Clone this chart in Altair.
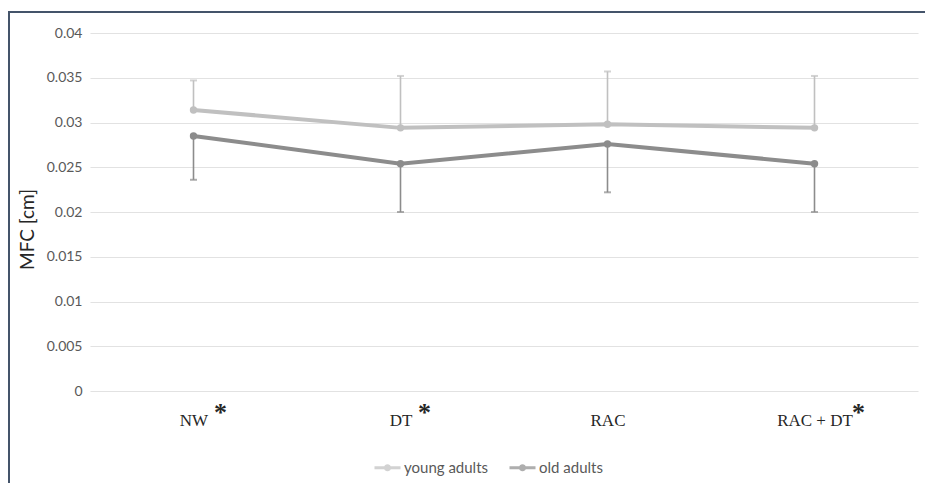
import altair as alt
import pandas as pd

# ---- data ----
categories = ["NW", "DT", "RAC", "RAC + DT"]
significant = ["NW", "DT", "RAC + DT"]
young_mean = [0.0314, 0.0294, 0.0298, 0.0294]
young_upper = [0.0347, 0.0352, 0.0357, 0.0352]
old_mean = [0.0285, 0.0254, 0.0276, 0.0254]
old_lower = [0.0236, 0.0200, 0.0222, 0.0200]
series = ["young adults", "old adults"]
y_ticks = [0, 0.005, 0.01, 0.015, 0.02, 0.025, 0.03, 0.035, 0.04]

# ---- styling ----
W, H = 828, 358
colors = ["#c0c0c0", "#8c8c8c"]
star_dx = {"NW": 27, "DT": 24, "RAC + DT": 44}

rows = []
for i, c in enumerate(categories):
    rows.append({"cat": c, "series": series[0], "mean": young_mean[i], "end": young_upper[i]})
    rows.append({"cat": c, "series": series[1], "mean": old_mean[i], "end": old_lower[i]})
df = pd.DataFrame(rows)

xenc = alt.X(
    "cat:N",
    sort=categories,
    scale=alt.Scale(type="point", padding=0.5),
    axis=alt.Axis(
        title=None, domain=False, ticks=False, grid=False, labelAngle=0,
        labelFont="Liberation Serif", labelFontSize=17, labelColor="#262626",
        labelPadding=21,
    ),
)
yenc = alt.Y(
    "mean:Q",
    scale=alt.Scale(domain=[0, 0.04], nice=False, zero=True),
    axis=alt.Axis(
        title="MFC [cm]", values=y_ticks, format="~g", domain=False, ticks=False,
        grid=True, gridColor="#e2e2e2", gridWidth=1.2,
        labelFont="Lato", labelFontSize=14, labelColor="#595959", labelPadding=8,
        titleFont="Lato", titleFontSize=19, titleFontWeight="normal", titleColor="#262626",
        titleX=-63, titleY=H / 2 + 17, titleAngle=270, titleAlign="center", titleBaseline="middle",
    ),
)
cscale = alt.Scale(domain=series, range=colors)
legend = alt.Legend(
    title=None, orient="none", legendX=283, legendY=420, direction="horizontal",
    symbolType="M-1,0H1M0.16,0A0.16,0.16 0 1,1 -0.16,0A0.16,0.16 0 1,1 0.16,0",
    symbolSize=676, symbolStrokeWidth=3,
    labelFont="Lato", labelFontSize=15, labelColor="#595959",
    labelOffset=2, columnPadding=14,
)
cenc = alt.Color("series:N", scale=cscale, legend=legend)

base = alt.Chart(df)

err_rule = base.mark_rule(strokeWidth=1.6).encode(
    x=xenc, y=alt.Y("mean:Q"), y2="end:Q", color=cenc,
)
err_cap = base.mark_tick(size=7, thickness=2).encode(
    x=xenc, y=alt.Y("end:Q"), color=cenc,
)
line = base.mark_line(strokeWidth=4).encode(
    x=xenc, y=yenc, color=cenc, detail="series:N",
)
pts = base.mark_point(filled=True, size=55, opacity=1).encode(
    x=xenc, y=alt.Y("mean:Q"), color=cenc,
)

layers = [err_rule, err_cap, line, pts]

star_df = pd.DataFrame({"cat": significant, "star": ["*"] * len(significant)})
for c in significant:
    layers.append(
        alt.Chart(star_df[star_df["cat"] == c])
        .mark_text(font="Liberation Serif", fontSize=26, fontWeight="bold",
                   baseline="alphabetic", align="center", dx=star_dx[c], color="#262626")
        .encode(x=xenc, y=alt.value(H + 30), text="star:N")
    )

# frame lines (top and left) of the figure
frame_df = pd.DataFrame({"k": [0]})
layers.append(
    alt.Chart(frame_df).mark_rule(color="#44546a", strokeWidth=2).encode(
        x=alt.value(-81), y=alt.value(-21), y2=alt.value(H + 120)
    )
)
layers.append(
    alt.Chart(frame_df).mark_rule(color="#44546a", strokeWidth=2).encode(
        x=alt.value(-82), x2=alt.value(W + 30), y=alt.value(-21)
    )
)

chart = (
    alt.layer(*layers)
    .properties(
        width=W, height=H,
        background="white",
        autosize=alt.AutoSizeParams(type="none"),
        padding={"left": 82, "top": 25, "right": 7, "bottom": 92},
    )
    .configure_view(strokeWidth=0, stroke="transparent")
)

chart.save("out.html", embed_options={"renderer": "svg", "actions": False})
